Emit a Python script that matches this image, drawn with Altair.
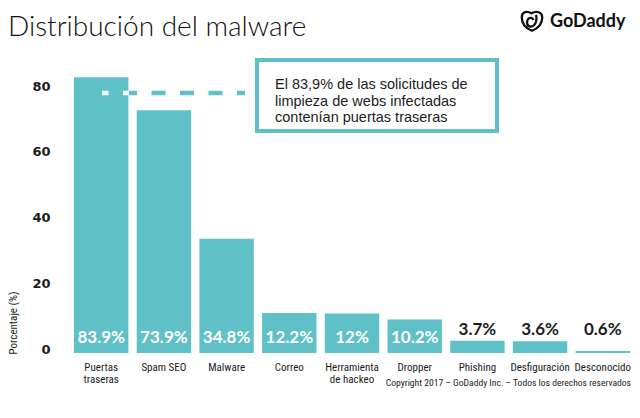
import altair as alt
import pandas as pd

# ---- data ----
categories = ["Puertas\ntraseras", "Spam SEO", "Malware", "Correo",
              "Herramienta\nde hackeo", "Dropper", "Phishing",
              "Desfiguración", "Desconocido"]
values = [83.9, 73.9, 34.8, 12.2, 12, 10.2, 3.7, 3.6, 0.6]
y_ticks = [0, 20, 40, 60, 80]

title_text = "Distribución del malware"
note_lines = ["El 83,9% de las solicitudes de",
              "limpieza de webs infectadas",
              "contenían puertas traseras"]
copyright_text = "Copyright 2017 – GoDaddy Inc. – Todos los derechos reservados"

df = pd.DataFrame({"cat": categories, "v": values})
one = pd.DataFrame({"k": [0]})  # single row for annotation marks

teal = "#5fc0c7"
dark = "#1c1c1c"
narrow = "'Liberation Sans Narrow', 'Roboto Condensed', Roboto, sans-serif"

base = alt.Chart(df)
ann = alt.Chart(one)

x_enc = alt.X(
    "cat:N", sort=categories,
    scale=alt.Scale(paddingInner=0.1325, paddingOuter=0.032),
    axis=alt.Axis(title=None, labelAngle=0, ticks=False, domain=False,
                  labelExpr="split(datum.value, '\\n')",
                  labelPadding=8, labelBaseline="top", labelLineHeight=12,
                  labelFont=narrow, labelFontSize=11, labelColor=dark),
)
y_enc = alt.Y(
    "v:Q",
    scale=alt.Scale(domain=[0, 84], nice=False, zero=True),
    axis=alt.Axis(values=y_ticks, grid=False, domain=False, ticks=False,
                  labelPadding=22, labelFont="DejaVu Sans", labelFontWeight="bold",
                  labelFontSize=13, labelColor=dark, labelBaseline="alphabetic",
                  title="Porcentaje (%)", titleAngle=270, titleAlign="left",
                  titleBaseline="middle", titleX=-59, titleY=277,
                  titleFont=narrow, titleFontSize=11, titleFontWeight="normal",
                  titleColor=dark),
)

bars = base.mark_bar(color=teal).encode(x=x_enc, y=y_enc)

inside = base.transform_filter("datum.v >= 10").transform_calculate(
    lbl="datum.v + '%'"
).mark_text(color="white", font="Lato", fontWeight="bold", fontSize=17,
            baseline="middle").encode(
    x=alt.X("cat:N", sort=categories), y=alt.datum(4.6), text="lbl:N")

outside = base.transform_filter("datum.v < 10").transform_calculate(
    lbl="datum.v + '%'"
).mark_text(color=dark, font="Lato", fontWeight="bold", fontSize=17,
            baseline="middle").encode(
    x=alt.X("cat:N", sort=categories), y=alt.datum(7.0), text="lbl:N")

dash_teal = ann.mark_rule(color=teal, strokeWidth=4.5, strokeDash=[14, 14.5],
                          strokeDashOffset=7.5).encode(
    x=alt.value(30), x2=alt.value(173), y=alt.datum(79.1))
dash_white = ann.mark_rule(color="white", strokeWidth=4.5, strokeDash=[14, 14.5],
                           strokeDashOffset=7.5).encode(
    x=alt.value(30), x2=alt.value(57), y=alt.datum(79.1))

box = ann.mark_rect(fill="white", stroke=teal, strokeWidth=4).encode(
    x=alt.value(185), x2=alt.value(425), y=alt.value(-17), y2=alt.value(54))

note = ann.mark_text(align="left", baseline="alphabetic",
                     font="'Liberation Sans', Arial, sans-serif",
                     fontSize=14.5, lineHeight=16.5, color=dark).encode(
    x=alt.value(203), y=alt.value(12), text=alt.value(note_lines))

title = ann.mark_text(align="left", baseline="alphabetic", font="Lato",
                      fontWeight=300, fontSize=28, color="#111").encode(
    x=alt.value(-64), y=alt.value(-41), text=alt.value(title_text))

logo_text = ann.mark_text(align="left", baseline="alphabetic", font="Lato",
                          fontWeight="bold", fontSize=18, color="#111").encode(
    x=alt.value(478), y=alt.value(-50), text=alt.value("GoDaddy"))

icon_path = ("M0,0.95 C-0.6,0.7 -1,0.25 -1,-0.35 C-1,-0.85 -0.55,-1.05 -0.05,-0.75 "
             "C0.45,-1.05 1,-0.85 1,-0.35 C1,0.25 0.6,0.7 0,0.95 Z "
             "M0.4,-0.6 C0.55,0 0.3,0.5 -0.1,0.55 "
             "C-0.45,0.55 -0.6,0.15 -0.4,-0.15 C-0.25,-0.4 0.05,-0.3 0.15,-0.1")
logo_icon = ann.mark_point(shape=icon_path, filled=False, color="#111",
                           strokeWidth=2.3, size=420, opacity=1).encode(
    x=alt.value(460), y=alt.value(-56))

copy = ann.mark_text(align="right", baseline="alphabetic", font=narrow,
                     fontSize=9.6, color=dark).encode(
    x=alt.value(559), y=alt.value(309), text=alt.value(copyright_text))

chart = alt.layer(
    bars, dash_teal, dash_white, box, note, inside, outside,
    title, logo_icon, logo_text, copy
).properties(
    width=560, height=276,
    autosize=alt.AutoSizeParams(type="none"),
    padding={"left": 64, "top": 69, "right": 0, "bottom": 57},
).configure_view(stroke=None)

chart.save("out.html", embed_options={"renderer": "svg", "actions": False})
